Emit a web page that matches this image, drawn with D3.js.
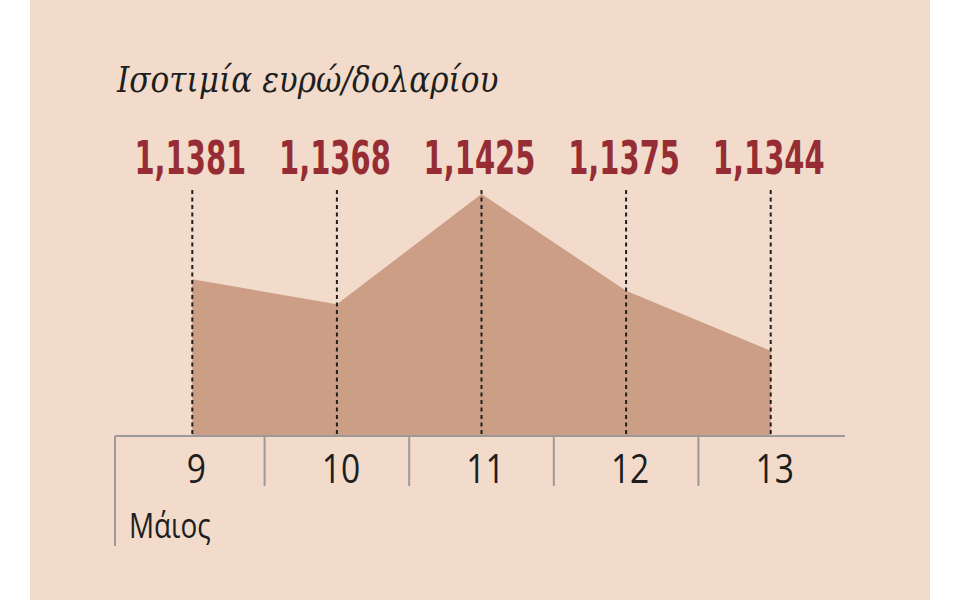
<!DOCTYPE html>
<html>
<head>
<meta charset="utf-8">
<script src="https://cdn.jsdelivr.net/npm/d3@7"></script>
<style>
  body { margin: 0; background: #fff; }
  #chart { width: 960px; height: 600px; }
</style>
</head>
<body>
<div id="chart"></div>
<script>
// data
const days = ['9', '10', '11', '12', '13'];
const rates = [1.1381, 1.1368, 1.1425, 1.1375, 1.1344];
const rateLabels = ['1,1381', '1,1368', '1,1425', '1,1375', '1,1344'];
const title = 'Ισοτιμία ευρώ/δολαρίου';
const monthLabel = 'Μάιος';

const width = 960, height = 600;
const svg = d3.select('#chart').append('svg')
  .attr('width', width)
  .attr('height', height)
  .attr('viewBox', [0, 0, width, height]);

// beige panel
svg.append('rect')
  .attr('x', 30).attr('y', 0)
  .attr('width', 900).attr('height', height)
  .attr('fill', '#f2dbcb');

const baseY = 436;
const x = d3.scaleBand().domain(days).range([120, 843]);
const cx = d => x(d) + x.bandwidth() / 2;
const y = d3.scaleLinear().domain([1.13, 1.1425]).range([baseY, 194]);

const pts = days.map((d, i) => ({ day: d, v: rates[i], lab: rateLabels[i] }));

// area
const area = d3.area()
  .x(d => cx(d.day))
  .y0(baseY)
  .y1(d => y(d.v));

svg.append('path')
  .datum(pts)
  .attr('d', area)
  .attr('fill', '#cc9e85');

// dashed guides
svg.selectAll('line.guide')
  .data(pts)
  .join('line')
  .attr('class', 'guide')
  .attr('x1', d => cx(d.day)).attr('x2', d => cx(d.day))
  .attr('y1', 190).attr('y2', baseY)
  .attr('stroke', '#1f1f1f')
  .attr('stroke-width', 2)
  .attr('stroke-dasharray', '4,3.5');

// value labels, squeezed horizontally to get the condensed look
svg.selectAll('g.val')
  .data(pts)
  .join('g')
  .attr('class', 'val')
  .attr('transform', d => `translate(${cx(d.day) - 2},174) scale(0.63,1)`)
  .append('text')
  .attr('text-anchor', 'middle')
  .attr('fill', '#962d35')
  .style('font-family', '"DejaVu Sans", sans-serif')
  .style('font-weight', 'bold')
  .style('font-size', '46px')
  .text(d => d.lab);

// axis line
svg.append('line')
  .attr('x1', 115).attr('x2', 845)
  .attr('y1', baseY).attr('y2', baseY)
  .attr('stroke', '#9a9a9a')
  .attr('stroke-width', 2);

// separators
const seps = days.slice(1).map(d => x(d));
svg.selectAll('line.sep')
  .data(seps)
  .join('line')
  .attr('class', 'sep')
  .attr('x1', d => d).attr('x2', d => d)
  .attr('y1', baseY).attr('y2', 486)
  .attr('stroke', '#9a9a9a')
  .attr('stroke-width', 2);

svg.append('line')
  .attr('x1', 115).attr('x2', 115)
  .attr('y1', baseY).attr('y2', 546)
  .attr('stroke', '#9a9a9a')
  .attr('stroke-width', 2);

// day labels
svg.selectAll('g.day')
  .data(days)
  .join('g')
  .attr('class', 'day')
  .attr('transform', d => `translate(${cx(d) + 4},483) scale(0.82,1)`)
  .append('text')
  .attr('text-anchor', 'middle')
  .attr('fill', '#1e1e1e')
  .style('font-family', '"Open Sans", sans-serif')
  .style('font-size', '41px')
  .text(d => d);

svg.append('g')
  .attr('transform', 'translate(129,538) scale(0.82,1)')
  .append('text')
  .attr('fill', '#1e1e1e')
  .style('font-family', '"Open Sans", sans-serif')
  .style('font-size', '34px')
  .text(monthLabel);

// title
svg.append('g')
  .attr('transform', 'translate(117,92) scale(0.89,1)')
  .append('text')
  .attr('fill', '#1e1e1e')
  .style('font-family', '"DejaVu Serif", serif')
  .style('font-style', 'italic')
  .style('font-size', '35px')
  .text(title);
</script>
</body>
</html>
